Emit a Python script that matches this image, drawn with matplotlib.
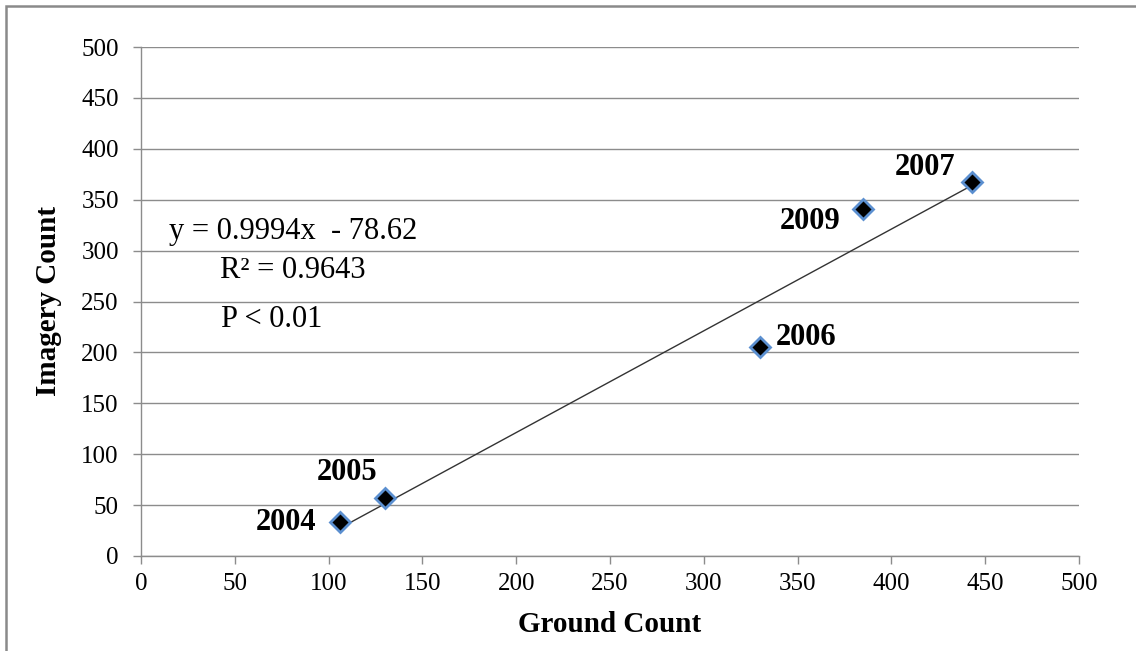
import matplotlib
matplotlib.use("Agg")
import matplotlib.pyplot as plt
from matplotlib.patches import Rectangle
import numpy as np

# Survey counts per year
years = ["2004", "2005", "2006", "2009", "2007"]
ground_count = [106, 130, 330, 385, 443]
imagery_count = [33, 57, 205, 341, 367]

# Fitted regression
slope = 0.9994
intercept = -78.62
r_squared = 0.9643

# Year label offsets (points) relative to each marker
label_offsets = {"2004": (-39, 0), "2005": (-27, 18), "2006": (33, 7),
                 "2009": (-38, -9), "2007": (-34, 11)}

plt.rcParams["font.family"] = ["Liberation Serif", "DejaVu Serif"]

W, H = 1136, 651
fig = plt.figure(figsize=(W / 100, H / 100), dpi=100)
fig.patch.set_facecolor("white")

def fx(px):
    return px / W

def fy(py):
    return 1 - py / H

ax = fig.add_axes([fx(141), fy(556), fx(1079) - fx(141), fy(47) - fy(556)])

grid_color = "#8c8c8c"
ax.set_xlim(0, 500)
ax.set_ylim(0, 500)
ax.set_xticks(np.arange(0, 501, 50))
ax.set_yticks(np.arange(0, 501, 50))
ax.yaxis.grid(True, color=grid_color, linewidth=1.0)
ax.set_axisbelow(True)
for side in ("top", "right"):
    ax.spines[side].set_visible(False)
for side in ("left", "bottom"):
    ax.spines[side].set_color(grid_color)
    ax.spines[side].set_linewidth(1.0)
ax.tick_params(axis="both", direction="out", length=6, width=1.0,
               color=grid_color, labelsize=18)
ax.tick_params(axis="y", pad=10)
ax.tick_params(axis="x", pad=6)

# Trend line across the observed range
xs = np.array([min(ground_count), max(ground_count)])
ax.plot(xs, slope * xs + intercept, color="#333333", linewidth=1.0, zorder=2)

ax.plot(ground_count, imagery_count, linestyle="none", marker="D",
        markersize=10.5, markerfacecolor="black", markeredgecolor="#5b8fd0",
        markeredgewidth=2.0, zorder=3)

for yr, gx, iy in zip(years, ground_count, imagery_count):
    ax.annotate(yr, (gx, iy), xytext=label_offsets[yr], textcoords="offset points",
                ha="center", va="center", fontsize=22, fontweight="bold")

ax.set_xlabel("Ground Count", fontsize=21, fontweight="bold", labelpad=12)
ax.set_ylabel("Imagery Count", fontsize=21, fontweight="bold", labelpad=14)

fig.text(fx(293), fy(232), f"y = {slope}x  - {abs(intercept)}", ha="center",
         va="center", fontsize=22)
fig.text(fx(293), fy(270), f"R\u00b2 = {r_squared}", ha="center", va="center",
         fontsize=22)
fig.text(fx(221), fy(320), "P < 0.01", ha="left", va="center", fontsize=22)

# Chart frame, running off the right and bottom edges
fig.patches.append(Rectangle((fx(6), fy(700)), 1.2, fy(6) - fy(700),
                             transform=fig.transFigure, fill=False,
                             edgecolor="#8a8a8a", linewidth=1.8))

fig.savefig("out.png", dpi=100)
